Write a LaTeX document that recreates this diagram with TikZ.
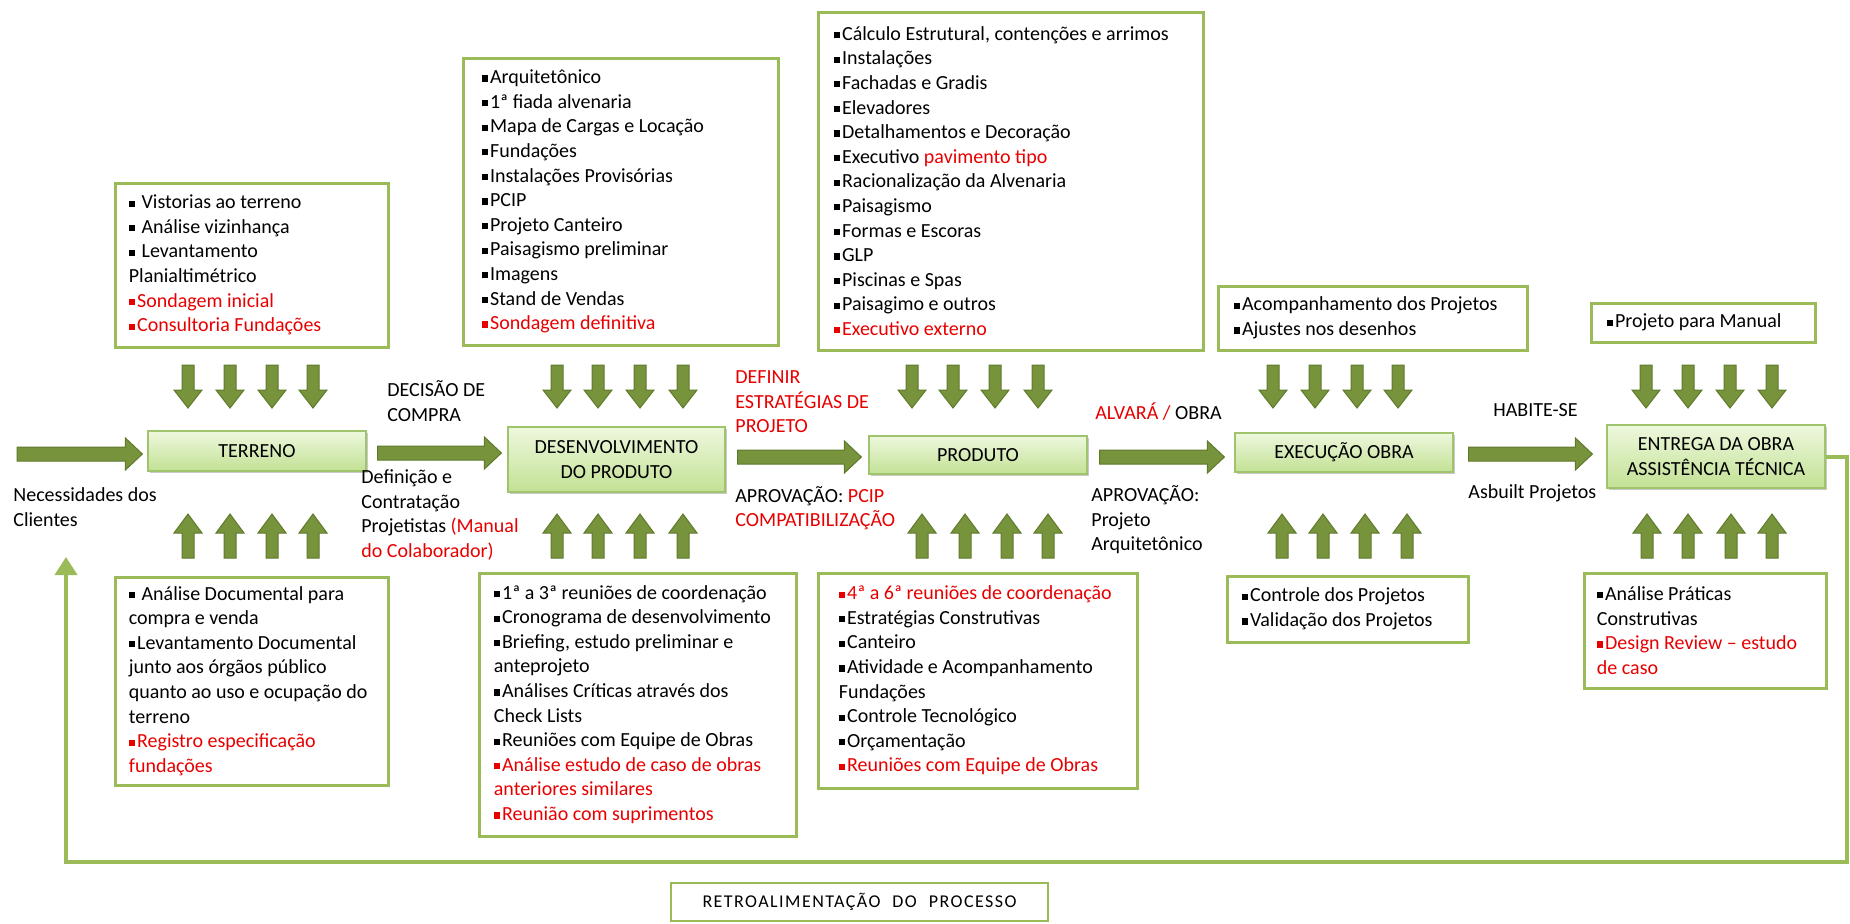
\documentclass[tikz,border=0pt]{standalone}
\usepackage{fontspec}
\setmainfont{Carlito}
\usetikzlibrary{calc,fit,shadows,arrows.meta}

\definecolor{boxgreen}{RGB}{155,187,89}
\definecolor{arrowfill}{RGB}{119,147,60}
\definecolor{arrowline}{RGB}{96,122,44}
\definecolor{procline}{RGB}{160,196,110}
\definecolor{proctop}{RGB}{238,248,222}
\definecolor{procbot}{RGB}{194,225,148}
\definecolor{hot}{RGB}{232,0,0}

% small square bullet and red text
\newcommand\bu{\rule[0.1em]{0.31em}{0.31em}\hspace{0.1em}}
\newcommand\rl[1]{\textcolor{hot}{#1}}

% horizontal block arrow from #1 to the x position of #2
\newcommand\flowarrow[2]{%
  \draw[blockarr] let \p1=(#1), \p2=(#2) in
    (\x1,\y1+3.5pt) -- (\x2-8.5pt,\y1+3.5pt) -- (\x2-8.5pt,\y1+8pt) -- (\x2,\y1)
    -- (\x2-8.5pt,\y1-8pt) -- (\x2-8.5pt,\y1-3.5pt) -- (\x1,\y1-3.5pt) -- cycle;}

\tikzset{
  x=0.5pt, y=-0.5pt,
  textbox/.style={draw=boxgreen, line width=1.5pt, fill=white, inner sep=0pt},
  boxtext/.style={font=\fontsize{10}{12.3}\selectfont, align=left, inner sep=0pt, anchor=west},
  note/.style={font=\fontsize{10}{12.3}\selectfont, align=left, inner sep=0pt, anchor=west},
  process/.style={draw=procline, line width=0.6pt, top color=proctop, bottom color=procbot,
    inner sep=0pt,
    drop shadow={shadow xshift=1.2pt, shadow yshift=-1.2pt, opacity=0.35, fill=black!60}},
  proctext/.style={font=\fontsize{10}{12.3}\selectfont, align=center, inner sep=0pt},
  blockarr/.style={fill=arrowfill, draw=arrowline, line width=0.5pt, line join=miter},
  feedback/.style={draw=boxgreen, line width=2pt, line join=miter, -{Triangle[width=11pt,length=9pt]}},
  pics/downarr/.style={code={\draw[blockarr] (-6,0) -- (6,0) -- (6,25) -- (14,25) -- (0,43) -- (-14,25) -- (-6,25) -- cycle;}},
  pics/uparr/.style={code={\draw[blockarr] (-6,0) -- (6,0) -- (6,-25) -- (14,-25) -- (0,-44) -- (-14,-25) -- (-6,-25) -- cycle;}},
}

\begin{document}
\begin{tikzpicture}
\fill[white] (0,0) rectangle (1850,923);
\useasboundingbox (0,0) rectangle (1850,923);

% ---- process stages ----
\node[process, fit={(148,431) (366,471)}] (terreno) {};
\node[proctext] (terreno-t) at (terreno.center) {TERRENO};
\node[process, fit={(508,427) (725,492)}] (desenv) {};
\node[proctext] (desenv-t) at (desenv.center) {DESENVOLVIMENTO\\DO PRODUTO};
\node[process, fit={(869,436) (1087,474)}] (produto) {};
\node[proctext] (produto-t) at (produto.center) {PRODUTO};
\node[process, fit={(1235,433) (1453,472)}] (execucao) {};
\node[proctext] (execucao-t) at (execucao.center) {EXECUÇÃO OBRA};
\node[process, fit={(1607,425) (1825,488)}] (entrega) {};
\node[proctext] (entrega-t) at (entrega.center) {ENTREGA DA OBRA\\ASSISTÊNCIA TÉCNICA};

% ---- upper boxes ----
\node[textbox, fit={(115,183) (388,347)}] (t1) {};
\node[boxtext] (t1txt) at ($(t1.west)+(15,0)$) {\bu\ Vistorias ao terreno\\\bu\ Análise vizinhança\\\bu\ Levantamento\\Planialtimétrico\\\rl{\bu Sondagem inicial}\\\rl{\bu Consultoria Fundações}};

\node[textbox, fit={(463,58) (778,345)}] (t2) {};
\node[boxtext] (t2txt) at ($(t2.west)+(20,0)$) {\bu Arquitetônico\\\bu 1ª fiada alvenaria\\\bu Mapa de Cargas e Locação\\\bu Fundações\\\bu Instalações Provisórias\\\bu PCIP\\\bu Projeto Canteiro\\\bu Paisagismo preliminar\\\bu Imagens\\\bu Stand de Vendas\\\rl{\bu Sondagem definitiva}};

\node[textbox, fit={(818,12) (1203,350)}] (t3) {};
\node[boxtext] (t3txt) at ($(t3.west)+(17,0)$) {\bu Cálculo Estrutural, contenções e arrimos\\\bu Instalações\\\bu Fachadas e Gradis\\\bu Elevadores\\\bu Detalhamentos e Decoração\\\bu Executivo \rl{pavimento tipo}\\\bu Racionalização da Alvenaria\\\bu Paisagismo\\\bu Formas e Escoras\\\bu GLP\\\bu Piscinas e Spas\\\bu Paisagimo e outros\\\rl{\bu Executivo externo}};

\node[textbox, fit={(1218,286) (1527,350)}] (t4) {};
\node[boxtext] (t4txt) at ($(t4.west)+(17,0)$) {\bu Acompanhamento dos Projetos\\\bu Ajustes nos desenhos};

\node[textbox, fit={(1591,303) (1815,342)}] (t5) {};
\node[boxtext] (t5txt) at ($(t5.west)+(17,0)$) {\bu Projeto para Manual};

% ---- lower boxes ----
\node[textbox, fit={(115,577) (388,785)}] (b1) {};
\node[boxtext] (b1txt) at ($(b1.west)+(15,0)$) {\bu\ Análise Documental para\\compra e venda\\\bu Levantamento Documental\\junto aos órgãos público\\quanto ao uso e ocupação do\\terreno\\\rl{\bu Registro especificação}\\\rl{fundações}};

\node[textbox, fit={(479,573) (796,836)}] (b2) {};
\node[boxtext] (b2txt) at ($(b2.west)+(16,0)$) {\bu 1ª a 3ª reuniões de coordenação\\\bu Cronograma de desenvolvimento\\\bu Briefing, estudo preliminar e\\anteprojeto\\\bu Análises Críticas através dos\\Check Lists\\\bu Reuniões com Equipe de Obras\\\rl{\bu Análise estudo de caso de obras}\\\rl{anteriores similares}\\\rl{\bu Reunião com suprimentos}};

\node[textbox, fit={(818,573) (1137,788)}] (b3) {};
\node[boxtext] (b3txt) at ($(b3.west)+(22,0)$) {\rl{\bu 4ª a 6ª reuniões de coordenação}\\\bu Estratégias Construtivas\\\bu Canteiro\\\bu Atividade e Acompanhamento\\Fundações\\\bu Controle Tecnológico\\\bu Orçamentação\\\rl{\bu Reuniões com Equipe de Obras}};

\node[textbox, fit={(1227,576) (1468,642)}] (b4) {};
\node[boxtext] (b4txt) at ($(b4.west)+(16,0)$) {\bu Controle dos Projetos\\\bu Validação dos Projetos};

\node[textbox, fit={(1584,573) (1826,688)}] (b5) {};
\node[boxtext] (b5txt) at ($(b5.west)+(14,0)$) {\bu Análise Práticas\\Construtivas\\\rl{\bu Design Review – estudo}\\\rl{de caso}};

% ---- inputs above and below each stage ----
\foreach \ax in {188,230,272,313,557,598,640,683,912,953,995,1038,1273,1315,1357,1398,1646,1688,1730,1772}
  \pic at (\ax,365) {downarr};
\foreach \ax in {188,230,272,313,557,598,640,683,922,965,1007,1048,1282,1323,1365,1407,1647,1688,1731,1772}
  \pic at (\ax,558) {uparr};

% ---- main flow ----
\coordinate (clientes) at (17,454);
\flowarrow{clientes}{$(terreno.west)+(-5,0)$}
\flowarrow{$(terreno.east)+(11,2)$}{$(desenv.west)+(-6,0)$}
\flowarrow{$(desenv.east)+(12,-2.5)$}{$(produto.west)+(-7,0)$}
\flowarrow{$(produto.east)+(12,2)$}{$(execucao.west)+(-10,0)$}
\flowarrow{$(execucao.east)+(15,1.5)$}{$(entrega.west)+(-14,0)$}

% ---- transition notes ----
\node[note] (nec) at (13,507) {Necessidades dos\\Clientes};
\node[note] (decisao) at (387,401) {DECISÃO DE\\COMPRA};
\node[note] (definicao) at (361,515) {Definição e\\Contratação\\Projetistas \rl{(Manual}\\\rl{do Colaborador)}};
\node[note, text=hot] (estrat) at (735,402) {DEFINIR\\ESTRATÉGIAS DE\\PROJETO};
\node[note] (aprov1) at (735,508) {APROVAÇÃO: \rl{PCIP}\\\rl{COMPATIBILIZAÇÃO}};
\node[note] (alvara) at (1095,412) {\rl{ALVARÁ /} OBRA};
\node[note] (aprov2) at (1091,520) {APROVAÇÃO:\\Projeto\\Arquitetônico};
\node[note] (habite) at (1493,410) {HABITE-SE};
\node[note] (asbuilt) at (1468,493) {Asbuilt Projetos};

% ---- feedback loop ----
\coordinate (fbR) at (1847,862);
\coordinate (fbL) at (66,862);
\coordinate (fbTip) at (66,557);
\draw[feedback] (entrega.east) -- (fbR |- entrega.east) -- (fbR) -- (fbL) -- (fbTip);

\node[textbox, line width=1.2pt, fit={(671,883) (1048,921)}] (retro) {};
\node[inner sep=0pt, font=\fontsize{9}{11}\selectfont\addfontfeature{LetterSpace=8}] (retro-t) at (retro.center)
  {RETROALIMENTAÇÃO\hspace{6pt}DO\hspace{6pt}PROCESSO};
\end{tikzpicture}
\end{document}
